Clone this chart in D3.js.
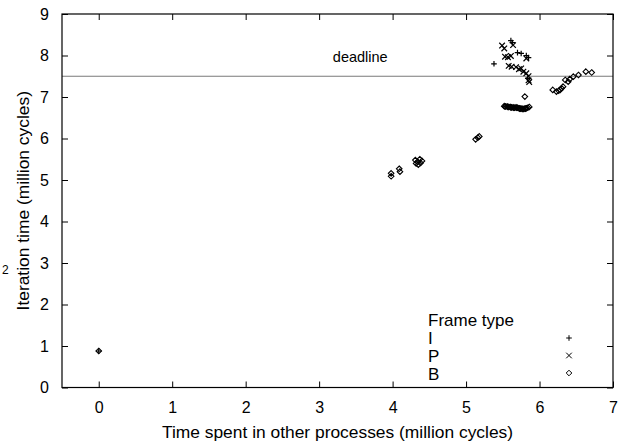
<!DOCTYPE html>
<html>
<head>
<meta charset="utf-8">
<script src="https://cdn.jsdelivr.net/npm/d3@7"></script>
<style>
  body { margin: 0; background: #fff; }
  svg text { font-family: "Liberation Sans", Arial, sans-serif; }
</style>
</head>
<body>
<div class="chart"></div>
<script>
// frame types: I, P, B  (x = time in other processes, y = iteration time, million cycles)
const iPoints = [[0, 0.88],
                 [5.38, 7.80], [5.61, 8.36], [5.63, 8.31], [5.70, 8.07], [5.75, 8.05],
                 [5.82, 8.00], [5.85, 7.95], [5.84, 7.45]];
const pPoints = [[5.49, 8.24], [5.52, 8.17], [5.64, 8.25], [5.53, 7.97], [5.57, 7.96],
                 [5.61, 7.99], [5.82, 7.93], [5.58, 7.75], [5.62, 7.73], [5.68, 7.72],
                 [5.72, 7.67], [5.75, 7.69], [5.78, 7.61], [5.82, 7.57], [5.85, 7.50],
                 [5.85, 7.40], [5.86, 7.36]];
const bPoints = [[0, 0.88],
                 [3.98, 5.16], [3.98, 5.09], [4.09, 5.27], [4.10, 5.20],
                 [4.31, 5.48], [4.34, 5.44], [4.37, 5.50], [4.38, 5.41], [4.35, 5.37],
                 [4.32, 5.40], [4.40, 5.46],
                 [5.13, 5.98], [5.16, 6.02], [5.18, 6.05],
                 [5.52, 6.78], [5.53, 6.77], [5.54, 6.77], [5.56, 6.77], [5.57, 6.76],
                 [5.58, 6.76], [5.60, 6.76], [5.61, 6.75], [5.62, 6.75], [5.64, 6.75],
                 [5.65, 6.74], [5.66, 6.74], [5.68, 6.75], [5.69, 6.74], [5.70, 6.74],
                 [5.72, 6.73], [5.73, 6.72], [5.74, 6.72], [5.76, 6.72], [5.77, 6.71],
                 [5.78, 6.71], [5.80, 6.72], [5.81, 6.72], [5.82, 6.73], [5.84, 6.74],
                 [5.86, 6.76],
                 [5.80, 7.01],
                 [6.18, 7.17], [6.23, 7.13], [6.26, 7.15], [6.28, 7.17], [6.30, 7.21],
                 [6.32, 7.25], [6.35, 7.41], [6.39, 7.37], [6.41, 7.43], [6.46, 7.49],
                 [6.53, 7.53], [6.63, 7.61], [6.71, 7.59]];
const deadline = 7.5;
const xTicks = [0, 1, 2, 3, 4, 5, 6, 7];
const yTicks = [0, 1, 2, 3, 4, 5, 6, 7, 8, 9];
const legendLabels = ["I", "P", "B"];

const margin = { top: 14, right: 5, bottom: 56.5, left: 62 },
  width = 618 - margin.left - margin.right,
  height = 444 - margin.top - margin.bottom;

const x = d3.scaleLinear().domain([-0.5, 7]).range([0, width]);
const y = d3.scaleLinear().domain([0, 9]).range([height, 0]);

const svg = d3.select(".chart")
  .append("svg")
  .attr("width", 618)
  .attr("height", 444);

// stray label on the left edge
svg.append("text")
  .attr("x", 2)
  .attr("y", 274)
  .style("font-size", "12px")
  .text("2");

const g = svg.append("g")
  .attr("transform", "translate(" + margin.left + "," + margin.top + ")");

// deadline line
g.append("line")
  .attr("x1", 0).attr("x2", width)
  .attr("y1", y(deadline)).attr("y2", y(deadline))
  .attr("stroke", "#7a7a7a")
  .attr("stroke-width", 1.2);

g.append("text")
  .attr("x", x(3.56))
  .attr("y", y(7.84))
  .attr("text-anchor", "middle")
  .style("font-size", "14.5px")
  .text("deadline");

// axes, ticks pointing inward, mirrored on top/right
const styleAxis = sel => {
  sel.select(".domain").remove();
  sel.selectAll("line").attr("stroke", "#000");
  sel.selectAll("text").style("font-size", "16px").attr("fill", "#000")
    .style("font-family", "'Liberation Sans', Arial, sans-serif");
};

g.append("g")
  .attr("transform", "translate(0," + height + ")")
  .call(d3.axisBottom(x).tickValues(xTicks).tickSize(-6).tickPadding(14))
  .call(styleAxis);

g.append("g")
  .call(d3.axisTop(x).tickValues(xTicks).tickSize(-6).tickFormat(""))
  .call(styleAxis);

g.append("g")
  .call(d3.axisLeft(y).tickValues(yTicks).tickSize(-6).tickPadding(13))
  .call(styleAxis);

g.append("g")
  .attr("transform", "translate(" + width + ",0)")
  .call(d3.axisRight(y).tickValues(yTicks).tickSize(-6).tickFormat(""))
  .call(styleAxis);

g.append("rect")
  .attr("width", width)
  .attr("height", height)
  .attr("fill", "none")
  .attr("stroke", "#000")
  .attr("stroke-width", 1.2);

// axis titles
svg.append("text")
  .attr("x", margin.left + width / 2)
  .attr("y", 438)
  .attr("text-anchor", "middle")
  .style("font-size", "17.4px")
  .text("Time spent in other processes (million cycles)");

svg.append("text")
  .attr("transform", "translate(29," + (margin.top + height / 2) + ") rotate(-90)")
  .attr("text-anchor", "middle")
  .style("font-size", "17.4px")
  .text("Iteration time (million cycles)");

// point symbols
const s = 2.8;
function plus(sel) {
  return sel.attr("d", "M" + (-s) + ",0H" + s + "M0," + (-s) + "V" + s);
}
function cross(sel) {
  return sel.attr("d", "M" + (-s) + "," + (-s) + "L" + s + "," + s + "M" + (-s) + "," + s + "L" + s + "," + (-s));
}
function diamond(sel) {
  return sel.attr("d", "M0," + (-s) + "L" + s + ",0L0," + s + "L" + (-s) + ",0Z");
}
const symbolFns = [plus, cross, diamond];

function drawPoints(data, fn, w) {
  g.append("g")
    .selectAll("path")
    .data(data)
    .enter()
    .append("path")
    .attr("transform", d => "translate(" + x(d[0]) + "," + y(d[1]) + ")")
    .attr("fill", "none")
    .attr("stroke", "#000")
    .attr("stroke-width", w)
    .call(fn);
}
drawPoints(bPoints, diamond, 1.1);
drawPoints(pPoints, cross, 1.2);
drawPoints(iPoints, plus, 1.2);

// legend
const legend = svg.append("g").attr("transform", "translate(428,0)");
legend.append("text")
  .attr("x", 0).attr("y", 326)
  .style("font-size", "17px")
  .text("Frame type");

legendLabels.forEach((lab, i) => {
  legend.append("text")
    .attr("x", 0).attr("y", 344 + i * 18)
    .style("font-size", "17px")
    .text(lab);
  legend.append("path")
    .attr("transform", "translate(141," + (338 + i * 17.5) + ")")
    .attr("fill", "none")
    .attr("stroke", "#000")
    .attr("stroke-width", 1)
    .call(symbolFns[i]);
});
</script>
</body>
</html>
